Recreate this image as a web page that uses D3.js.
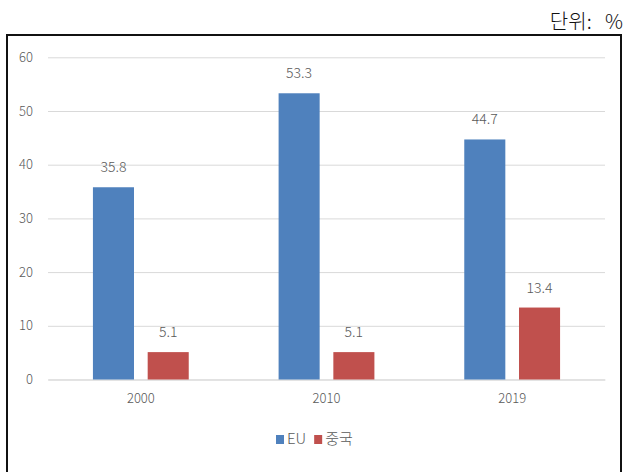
<!DOCTYPE html>
<html>
<head>
<meta charset="utf-8">
<script src="https://cdn.jsdelivr.net/npm/d3@7"></script>
<style>
  html, body { margin: 0; padding: 0; background: #fff; }
  svg { display: block; }
</style>
</head>
<body>
<svg id="chart" width="623" height="472"></svg>
<script>
// Share by region, in percent
const years = ["2000", "2010", "2019"];
const seriesNames = ["EU", "중국"];
const euValues = [35.8, 53.3, 44.7];
const chinaValues = [5.1, 5.1, 13.4];
const yTicks = [0, 10, 20, 30, 40, 50, 60];
const unitLabel = "단위: %";

const colors = { "EU": "#4F81BD", "중국": "#C0504D" };
const font = "'Noto Sans CJK KR', 'Noto Sans', sans-serif";
const textGray = "#595959";

const svg = d3.select("#chart");

// outer frame and unit note
svg.append("rect")
  .attr("x", 7).attr("y", 35)
  .attr("width", 614).attr("height", 460)
  .attr("fill", "#fff")
  .attr("stroke", "#111").attr("stroke-width", 2);

svg.append("text")
  .attr("x", 623).attr("y", 29)
  .attr("text-anchor", "end")
  .attr("font-family", font)
  .attr("font-size", 20)
  .attr("font-weight", 300)
  .attr("word-spacing", 9)
  .attr("fill", "#111")
  .text(unitLabel);

const plot = { left: 48, right: 605, top: 57.3, bottom: 379.5 };

const x0 = d3.scaleBand().domain(years).range([plot.left, plot.right]).padding(0);
const bw = x0.bandwidth();
const x1 = d3.scaleBand().domain(seriesNames)
  .range([bw * 0.242, bw * 0.758]).paddingInner(0.25);
const y = d3.scaleLinear().domain([0, 60]).range([plot.bottom, plot.top]);

// gridlines + y labels
const yAxis = d3.axisLeft(y).tickValues(yTicks)
  .tickSize(-(plot.right - plot.left)).tickPadding(15);
const gy = svg.append("g").attr("transform", `translate(${plot.left},0)`).call(yAxis);
gy.select(".domain").remove();
gy.selectAll(".tick line").attr("stroke", "#d9d9d9").attr("stroke-width", 1);
gy.selectAll(".tick text")
  .attr("font-family", font).attr("font-size", 13).attr("font-weight", 300)
  .attr("fill", textGray);

// x labels
const xAxis = d3.axisBottom(x0).tickSize(0).tickPadding(14);
const gx = svg.append("g").attr("transform", `translate(0,${plot.bottom})`).call(xAxis);
gx.select(".domain").attr("stroke", "#d9d9d9");
gx.selectAll(".tick text")
  .attr("font-family", font).attr("font-size", 13).attr("font-weight", 300)
  .attr("fill", textGray);

// bars
const rows = years.map((yr, i) => ({
  year: yr,
  values: [
    { key: "EU", value: euValues[i] },
    { key: "중국", value: chinaValues[i] }
  ]
}));

const groups = svg.append("g").selectAll("g").data(rows).join("g")
  .attr("transform", d => `translate(${x0(d.year)},0)`);

groups.selectAll("rect").data(d => d.values).join("rect")
  .attr("x", d => x1(d.key))
  .attr("y", d => y(d.value))
  .attr("width", x1.bandwidth())
  .attr("height", d => y(0) - y(d.value))
  .attr("fill", d => colors[d.key]);

groups.selectAll("text.val").data(d => d.values).join("text")
  .attr("class", "val")
  .attr("x", d => x1(d.key) + x1.bandwidth() / 2)
  .attr("y", d => y(d.value) - 15)
  .attr("text-anchor", "middle")
  .attr("font-family", font).attr("font-size", 14).attr("font-weight", 300)
  .attr("fill", textGray)
  .text(d => d.value.toFixed(1));

// legend
const legend = svg.append("g").attr("transform", "translate(276,440)");
let lx = 0;
seriesNames.forEach(name => {
  legend.append("rect").attr("x", lx).attr("y", -5).attr("width", 8).attr("height", 9)
    .attr("fill", colors[name]);
  const t = legend.append("text").attr("x", lx + 11).attr("y", 0)
    .attr("dominant-baseline", "middle")
    .attr("font-family", font).attr("font-size", 15).attr("font-weight", 300)
    .attr("fill", textGray)
    .text(name);
  lx += 11 + t.node().getComputedTextLength() + 8;
});
</script>
</body>
</html>
